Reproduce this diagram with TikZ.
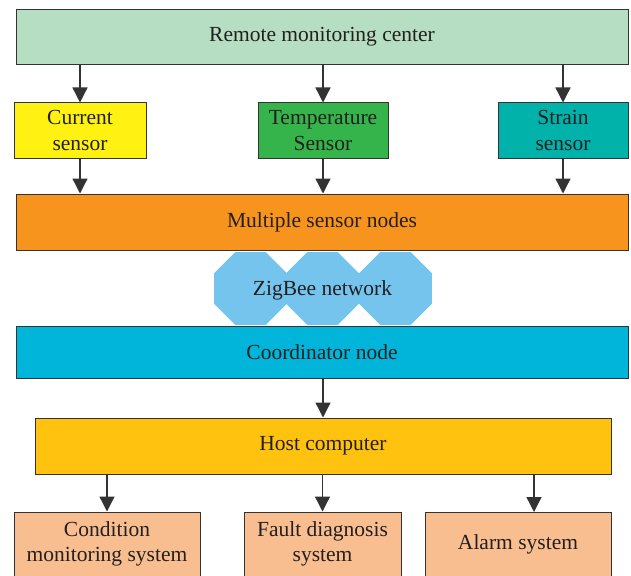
\documentclass[tikz,border=0pt]{standalone}
\usepackage{fontspec}
\setmainfont{Liberation Serif}
\usetikzlibrary{arrows.meta,shapes.geometric}

\definecolor{txt}{HTML}{231F20}
\definecolor{edge}{HTML}{333333}
\definecolor{cRemote}{HTML}{B5DEC2}
\definecolor{cCurrent}{HTML}{FFF212}
\definecolor{cTemp}{HTML}{34B44A}
\definecolor{cStrain}{HTML}{00B2AA}
\definecolor{cMulti}{HTML}{F7941E}
\definecolor{cZig}{HTML}{74C4EE}
\definecolor{cCoord}{HTML}{00B5D9}
\definecolor{cHost}{HTML}{FFC20E}
\definecolor{cOut}{HTML}{F9BE8F}

\tikzset{
  box/.style={draw=edge, line width=1pt, inner sep=0pt, align=center,
    text=txt, font=\fontsize{21.5}{25.5}\selectfont},
  zig/.style={regular polygon, regular polygon sides=8, minimum size=79pt,
    inner sep=0pt, fill=cZig, draw=none},
  arr/.style={draw=edge, line width=1.3pt,
    -{Triangle[width=15pt,length=15pt]}},
}

\begin{document}
\begin{tikzpicture}[x=1pt,y=-1pt]
  \useasboundingbox (0,0) rectangle (631,575);

  % top level
  \node[box, fill=cRemote, minimum width=612pt, minimum height=55pt]
    (rmc) at (322,37) {Remote monitoring center};

  % sensors
  \node[box, fill=cCurrent, minimum width=132pt, minimum height=55pt]
    (cur) at (80,130.5) {Current\\sensor};
  \node[box, fill=cTemp, minimum width=130pt, minimum height=55pt]
    (tmp) at (323,130.5) {Temperature\\Sensor};
  \node[box, fill=cStrain, minimum width=130pt, minimum height=55pt]
    (str) at (563,130.5) {Strain\\sensor};

  % sensor nodes
  \node[box, fill=cMulti, minimum width=612pt, minimum height=56pt]
    (msn) at (322,222) {Multiple sensor nodes};

  % ZigBee network
  \node[zig] (z1) at (250.5,288.5) {};
  \node[zig] (z2) at (322.5,288.5) {};
  \node[zig] (z3) at (395.5,288.5) {};
  \node[text=txt, font=\fontsize{21.5}{25.5}\selectfont] (zl) at (322.5,290) {ZigBee network};

  % coordinator
  \node[box, fill=cCoord, minimum width=612pt, minimum height=52pt]
    (crd) at (322,352) {Coordinator node};

  % host
  \node[box, fill=cHost, minimum width=576pt, minimum height=56pt]
    (host) at (323,446) {Host computer};

  % outputs
  \node[box, fill=cOut, minimum width=186pt, minimum height=64pt]
    (cms) at (107,544) {Condition\\monitoring system};
  \node[box, fill=cOut, minimum width=157pt, minimum height=64pt]
    (fds) at (322.5,544) {Fault diagnosis\\system};
  \node[box, fill=cOut, minimum width=186pt, minimum height=64pt]
    (alm) at (518,544) {Alarm system};
  \coordinate (almin) at (534,512);

  % connectors
  \draw[arr] (rmc.south -| cur.north) -- (cur.north);
  \draw[arr] (rmc.south -| tmp.north) -- (tmp.north);
  \draw[arr] (rmc.south -| str.north) -- (str.north);
  \draw[arr] (cur.south) -- (cur.south |- msn.north);
  \draw[arr] (tmp.south) -- (tmp.south |- msn.north);
  \draw[arr] (str.south) -- (str.south |- msn.north);
  \draw[arr] (crd.south -| host.north) -- (host.north);
  \draw[arr] (host.south -| cms.north) -- (cms.north);
  \draw[arr] (host.south -| fds.north) -- (fds.north);
  \draw[arr] (host.south -| almin) -- (almin);
\end{tikzpicture}
\end{document}
